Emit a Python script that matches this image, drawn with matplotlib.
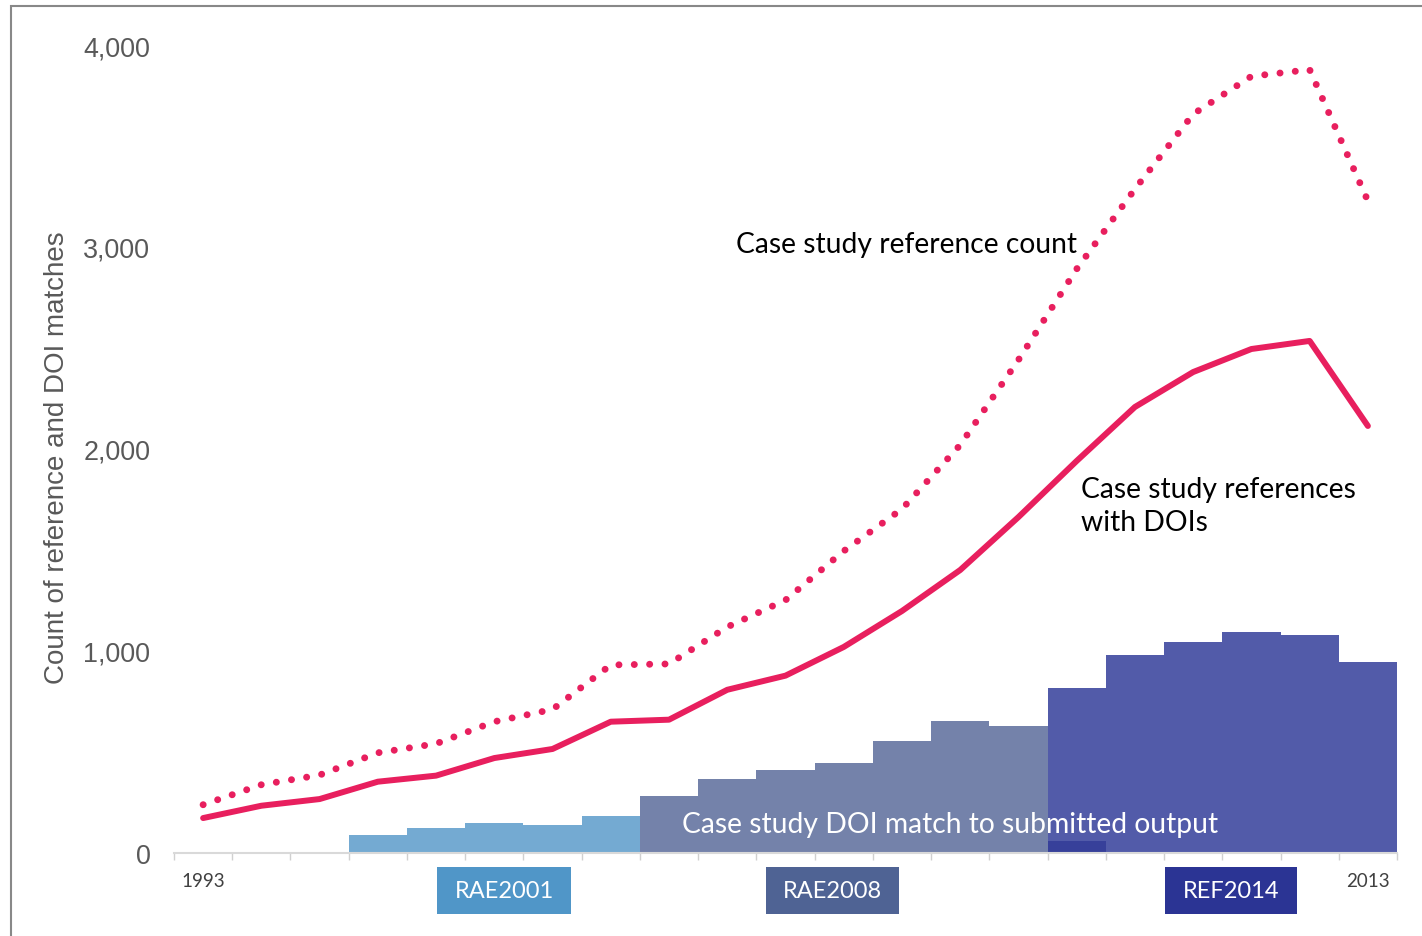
import numpy as np
import matplotlib.pyplot as plt
from matplotlib.patches import Rectangle

# data
years = list(range(1993, 2014))
ref_count = [239, 338, 386, 496, 541, 650, 711, 931, 936, 1119, 1252, 1495,
             1703, 2020, 2441, 2891, 3287, 3658, 3845, 3878, 3228]
ref_doi = [173, 234, 267, 353, 383, 470, 515, 650, 660, 808, 878, 1020,
           1198, 1401, 1663, 1941, 2208, 2381, 2495, 2535, 2114]

bar_years = list(range(1996, 2014))
doi_match = [90, 125, 147, 140, 183, 284, 366, 409, 444, 553, 652, 630,
             817, 982, 1043, 1092, 1081, 944]
bar_group = ['RAE2001'] * 5 + ['RAE2008'] * 7 + ['REF2014'] * 6
extra_year = [2008]
extra_val = [60]

exercises = ['RAE2001', 'RAE2008', 'REF2014']
bar_col = {'RAE2001': '#74aad2', 'RAE2008': '#7482aa', 'REF2014': '#525ba9'}
box_col = {'RAE2001': '#5096c8', 'RAE2008': '#4f6394', 'REF2014': '#2b3494'}
box_span = {'RAE2001': (1997.02, 1999.32), 'RAE2008': (2002.66, 2004.95),
            'REF2014': (2009.52, 2011.78)}

pink = '#e81f5e'

fig = plt.figure(figsize=(14.22, 9.37), dpi=100)
ax = fig.add_axes([174/1422, 83/937, 1223/1422, 808/937])

ax.bar(bar_years, doi_match, width=1.0, color=[bar_col[g] for g in bar_group],
       linewidth=0, zorder=1)
ax.bar(extra_year, extra_val, width=1.0, color='#37409a', linewidth=0, zorder=1.5)

ax.plot(years, ref_doi, color=pink, lw=4.3, solid_capstyle='round',
        solid_joinstyle='round', zorder=3)
ax.plot(years, ref_count, color=pink, lw=5.0, linestyle=(0, (0.01, 2.2)),
        dash_capstyle='round', zorder=3)

ax.set_xlim(1992.5, 2013.5)
ax.set_ylim(0, 4000)
ax.set_xticks(np.arange(1992.5, 2014, 1))
ax.set_xticklabels([])
ax.tick_params(axis='x', length=5, width=1, color='#d0d0d0', direction='out')
ax.set_yticks([0, 1000, 2000, 3000, 4000])
ax.set_yticklabels(['0', '1,000', '2,000', '3,000', '4,000'],
                   fontfamily='Liberation Sans', fontsize=19.4, color='#595959')
ax.tick_params(axis='y', length=0, pad=17)
for s in ['top', 'right', 'left']:
    ax.spines[s].set_visible(False)
ax.spines['bottom'].set_color('#d9d9d9')
ax.spines['bottom'].set_linewidth(1.5)

ax.set_ylabel('Count of reference and DOI matches', fontfamily='Liberation Sans',
              fontsize=20, color='#595959')
ax.yaxis.set_label_coords(-0.085, 0.49)

# annotations
ax.text(2002.15, 3015, 'Case study reference count', fontfamily='Lato',
        fontsize=20.3, color='black', va='center', ha='left', zorder=4)
ax.text(2008.07, 1720, 'Case study references\nwith DOIs', fontfamily='Lato',
        fontsize=20.3, color='black', va='center', ha='left', linespacing=1.32,
        zorder=4)
ax.text(2001.22, 144, 'Case study DOI match to submitted output', fontfamily='Lato',
        fontsize=20.3, color='white', va='center', ha='left', zorder=4)

for yr in [1993, 2013]:
    ax.text(yr, -134, str(yr), fontfamily='Lato', fontsize=13.5, color='#404040',
            ha='center', va='center', clip_on=False)

for ex in exercises:
    x0, x1 = box_span[ex]
    ax.add_patch(Rectangle((x0, -302), x1 - x0, 233, facecolor=box_col[ex],
                           edgecolor='none', clip_on=False))
    ax.text((x0 + x1) / 2, -185, ex, fontfamily='Lato', fontsize=17,
            color='white', ha='center', va='center', clip_on=False)

# figure frame (partly cut off)
fig.patches.append(Rectangle((11/1422, -0.05), 1.2, (937-7)/937 + 0.05,
                             transform=fig.transFigure, fill=False,
                             edgecolor='#888888', linewidth=1.5))

fig.savefig('out.png', dpi=100)
